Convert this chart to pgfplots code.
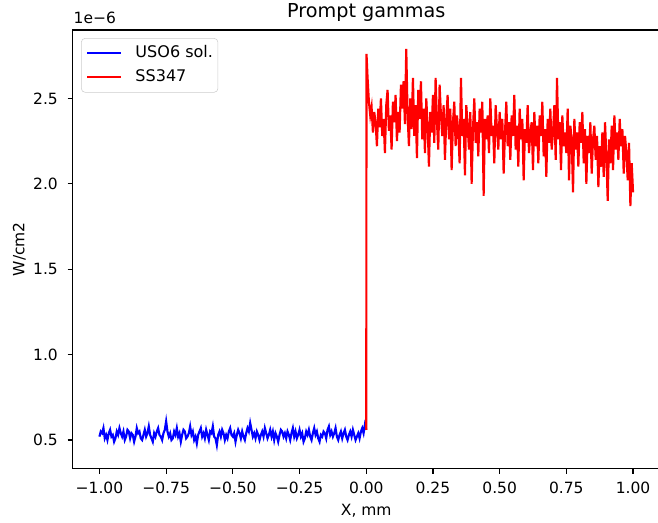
\documentclass[border=0pt]{standalone}
\usepackage{pgfplots}
\pgfplotsset{compat=1.18}
\usepackage{fontspec}
\setmainfont{DejaVu Sans}
\newcommand{\tfont}{\fontsize{11.6}{14}\selectfont}
\begin{document}
\tfont
\begin{tikzpicture}
\begin{axis}[
  scale only axis,
  width=439.7pt, height=328.5pt,
  xmin=-1.1, xmax=1.1, ymin=0.333, ymax=2.9,
  xtick={-1,-0.75,-0.5,-0.25,0,0.25,0.5,0.75,1},
  xticklabels={−1.00,−0.75,−0.50,−0.25,0.00,0.25,0.50,0.75,1.00},
  ytick={0.5,1,1.5,2,2.5},
  yticklabels={0.5,1.0,1.5,2.0,2.5},
  tick align=outside, xtick pos=bottom, ytick pos=left,
  major tick length=3.75pt,
  every tick/.style={black, line width=0.9pt},
  axis line style={line width=0.9pt},
  ticklabel style={font=\tfont},
  xticklabel style={inner xsep=0pt, inner ysep=6.3pt},
  yticklabel style={inner ysep=0pt, inner xsep=7.25pt},
  title={Prompt gammas},
  title style={font=\fontsize{14.4}{17}\selectfont, at={(axis description cs:0.5,1)}, anchor=base, yshift=3.4pt, inner sep=0pt},
  xlabel={X, mm}, ylabel={W/cm2},
  label style={font=\tfont},
  xlabel style={at={(axis description cs:0.5,-0.0799)}, anchor=north, inner sep=0pt},
  ylabel style={at={(axis description cs:-0.091,0.5)}, anchor=center, inner sep=0pt},
  legend cell align=left,
  legend style={at={(0,1)}, anchor=north west, xshift=6.2pt, yshift=-6pt,
    draw=black!20, rounded corners=3pt, font=\fontsize{12}{14}\selectfont,
    inner xsep=3.75pt, inner ysep=5.25pt, row sep=6pt, column sep=0pt,
    nodes={inner sep=0pt, text height=9pt, text depth=3pt}},
  /tikz/every odd column/.append style={column sep=9.75pt},
  legend image code/.code={\draw[#1] (0pt,0pt) -- (25.5pt,0pt);},
]
\addplot[blue, line width=1.6pt] coordinates {
(-1.000,0.52) (-0.995,0.55) (-0.990,0.54) (-0.985,0.57) (-0.980,0.51) (-0.975,0.53) (-0.970,0.50) (-0.965,0.54) (-0.960,0.56) (-0.955,0.52)
(-0.950,0.53) (-0.945,0.49) (-0.940,0.51) (-0.935,0.55) (-0.930,0.53) (-0.925,0.57) (-0.920,0.54) (-0.915,0.52) (-0.910,0.55) (-0.905,0.50)
(-0.900,0.52) (-0.895,0.56) (-0.890,0.55) (-0.885,0.51) (-0.880,0.54) (-0.875,0.53) (-0.870,0.49) (-0.865,0.52) (-0.860,0.57) (-0.855,0.54)
(-0.850,0.55) (-0.845,0.51) (-0.840,0.50) (-0.835,0.53) (-0.830,0.56) (-0.825,0.52) (-0.820,0.54) (-0.815,0.58) (-0.810,0.53) (-0.805,0.51)
(-0.800,0.49) (-0.795,0.54) (-0.790,0.52) (-0.785,0.55) (-0.780,0.57) (-0.775,0.53) (-0.770,0.52) (-0.765,0.50) (-0.760,0.54) (-0.755,0.56)
(-0.750,0.61) (-0.745,0.55) (-0.740,0.52) (-0.735,0.54) (-0.730,0.50) (-0.725,0.51) (-0.720,0.55) (-0.715,0.53) (-0.710,0.57) (-0.705,0.52)
(-0.700,0.54) (-0.695,0.49) (-0.690,0.53) (-0.685,0.56) (-0.680,0.55) (-0.675,0.51) (-0.670,0.52) (-0.665,0.54) (-0.660,0.58) (-0.655,0.53)
(-0.650,0.55) (-0.645,0.50) (-0.640,0.52) (-0.635,0.48) (-0.630,0.53) (-0.625,0.55) (-0.620,0.57) (-0.615,0.52) (-0.610,0.54) (-0.605,0.51)
(-0.600,0.56) (-0.595,0.53) (-0.590,0.50) (-0.585,0.55) (-0.580,0.54) (-0.575,0.58) (-0.570,0.52) (-0.565,0.51) (-0.560,0.47) (-0.555,0.53)
(-0.550,0.55) (-0.545,0.52) (-0.540,0.56) (-0.535,0.54) (-0.530,0.50) (-0.525,0.53) (-0.520,0.51) (-0.515,0.55) (-0.510,0.57) (-0.505,0.53)
(-0.500,0.52) (-0.495,0.54) (-0.490,0.49) (-0.485,0.53) (-0.480,0.56) (-0.475,0.54) (-0.470,0.51) (-0.465,0.55) (-0.460,0.52) (-0.455,0.50)
(-0.450,0.54) (-0.445,0.57) (-0.440,0.55) (-0.435,0.60) (-0.430,0.56) (-0.425,0.52) (-0.420,0.54) (-0.415,0.51) (-0.410,0.55) (-0.405,0.53)
(-0.400,0.50) (-0.395,0.53) (-0.390,0.55) (-0.385,0.52) (-0.380,0.57) (-0.375,0.54) (-0.370,0.51) (-0.365,0.53) (-0.360,0.56) (-0.355,0.52)
(-0.350,0.55) (-0.345,0.50) (-0.340,0.54) (-0.335,0.52) (-0.330,0.49) (-0.325,0.53) (-0.320,0.56) (-0.315,0.55) (-0.310,0.52) (-0.305,0.54)
(-0.300,0.51) (-0.295,0.55) (-0.290,0.53) (-0.285,0.50) (-0.280,0.54) (-0.275,0.57) (-0.270,0.52) (-0.265,0.55) (-0.260,0.51) (-0.255,0.53)
(-0.250,0.56) (-0.245,0.52) (-0.240,0.54) (-0.235,0.49) (-0.230,0.51) (-0.225,0.55) (-0.220,0.53) (-0.215,0.56) (-0.210,0.52) (-0.205,0.50)
(-0.200,0.54) (-0.195,0.57) (-0.190,0.53) (-0.185,0.55) (-0.180,0.51) (-0.175,0.49) (-0.170,0.53) (-0.165,0.52) (-0.160,0.55) (-0.155,0.54)
(-0.150,0.51) (-0.145,0.56) (-0.140,0.58) (-0.135,0.53) (-0.130,0.55) (-0.125,0.52) (-0.120,0.54) (-0.115,0.57) (-0.110,0.52) (-0.105,0.50)
(-0.100,0.53) (-0.095,0.55) (-0.090,0.51) (-0.085,0.54) (-0.080,0.56) (-0.075,0.52) (-0.070,0.50) (-0.065,0.53) (-0.060,0.55) (-0.055,0.52)
(-0.050,0.56) (-0.045,0.53) (-0.040,0.50) (-0.035,0.52) (-0.030,0.54) (-0.025,0.51) (-0.020,0.55) (-0.015,0.57) (-0.010,0.54) (-0.005,0.59)
(0.000,0.56)
};
\addlegendentry{USO6 sol.}
\addplot[red, line width=1.6pt] coordinates {
(0.000,0.56) (0.001,2.76)
(0.005,2.62) (0.010,2.48) (0.015,2.40) (0.020,2.45) (0.025,2.30) (0.030,2.42) (0.035,2.36) (0.040,2.22) (0.045,2.44) (0.050,2.33)
(0.055,2.50) (0.060,2.28) (0.065,2.38) (0.070,2.18) (0.075,2.46) (0.080,2.55) (0.085,2.31) (0.090,2.40) (0.095,2.20) (0.100,2.48)
(0.105,2.36) (0.110,2.52) (0.115,2.25) (0.120,2.42) (0.125,2.30) (0.130,2.58) (0.135,2.44) (0.140,2.60) (0.145,2.35) (0.150,2.79)
(0.155,2.40) (0.160,2.22) (0.165,2.50) (0.170,2.32) (0.175,2.62) (0.180,2.28) (0.185,2.46) (0.190,2.15) (0.195,2.55) (0.200,2.38)
(0.205,2.60) (0.210,2.26) (0.215,2.44) (0.220,2.18) (0.225,2.50) (0.230,2.34) (0.235,2.10) (0.240,2.42) (0.245,2.30) (0.250,2.52)
(0.255,2.24) (0.260,2.62) (0.265,2.36) (0.270,2.20) (0.275,2.58) (0.280,2.40) (0.285,2.28) (0.290,2.46) (0.295,2.14) (0.300,2.38)
(0.305,2.52) (0.310,2.26) (0.315,2.44) (0.320,2.08) (0.325,2.36) (0.330,2.48) (0.335,2.22) (0.340,2.40) (0.345,2.30) (0.350,2.12)
(0.355,2.62) (0.360,2.28) (0.365,2.38) (0.370,2.05) (0.375,2.46) (0.380,2.34) (0.385,2.20) (0.390,2.42) (0.395,2.00) (0.400,2.32)
(0.405,2.50) (0.410,2.24) (0.415,2.36) (0.420,2.16) (0.425,2.44) (0.430,2.30) (0.435,2.48) (0.440,1.93) (0.445,2.38) (0.450,2.26)
(0.455,2.40) (0.460,2.18) (0.465,2.50) (0.470,2.28) (0.475,2.34) (0.480,2.12) (0.485,2.46) (0.490,2.32) (0.495,2.20) (0.500,2.42)
(0.505,2.26) (0.510,2.38) (0.515,2.06) (0.520,2.30) (0.525,2.48) (0.530,2.22) (0.535,2.36) (0.540,2.14) (0.545,2.40) (0.550,2.28)
(0.555,2.52) (0.560,2.20) (0.565,2.34) (0.570,2.10) (0.575,2.44) (0.580,2.26) (0.585,2.38) (0.590,2.02) (0.595,2.32) (0.600,2.24)
(0.605,2.46) (0.610,2.18) (0.615,2.30) (0.620,2.36) (0.625,2.08) (0.630,2.42) (0.635,2.22) (0.640,2.34) (0.645,2.12) (0.650,2.40)
(0.655,2.28) (0.660,2.48) (0.665,2.16) (0.670,2.32) (0.675,2.04) (0.680,2.38) (0.685,2.24) (0.690,2.44) (0.695,2.20) (0.700,2.30)
(0.705,2.46) (0.710,2.14) (0.715,2.62) (0.720,2.26) (0.725,2.36) (0.730,2.08) (0.735,2.40) (0.740,2.22) (0.745,2.30) (0.750,2.18)
(0.755,2.44) (0.760,2.02) (0.765,2.34) (0.770,2.26) (0.775,1.95) (0.780,2.38) (0.785,2.20) (0.790,2.30) (0.795,2.10) (0.800,2.36)
(0.805,2.24) (0.810,2.42) (0.815,2.12) (0.820,2.32) (0.825,2.00) (0.830,2.28) (0.835,2.18) (0.840,2.36) (0.845,2.06) (0.850,2.26)
(0.855,2.34) (0.860,2.14) (0.865,2.28) (0.870,1.98) (0.875,2.22) (0.880,2.10) (0.885,2.30) (0.890,2.04) (0.895,2.36) (0.900,2.16)
(0.905,1.90) (0.910,2.26) (0.915,2.12) (0.920,2.34) (0.925,2.08) (0.930,2.40) (0.935,2.20) (0.940,2.30) (0.945,2.14) (0.950,2.38)
(0.955,2.22) (0.960,2.32) (0.965,2.06) (0.970,2.28) (0.975,2.18) (0.980,2.02) (0.985,2.24) (0.990,1.87) (0.995,2.12) (1.000,1.95)
};
\addlegendentry{SS347}
\end{axis}
\node[anchor=base west, inner sep=0pt] at ([xshift=0.5pt,yshift=5pt]current axis.north west) {1e−6};
\pgfresetboundingbox
\path ([shift={(-54.5pt,-40.5pt)}]current axis.south west) rectangle ([shift={(-1.3pt,22.5pt)}]current axis.north east);
\end{tikzpicture}
\end{document}
